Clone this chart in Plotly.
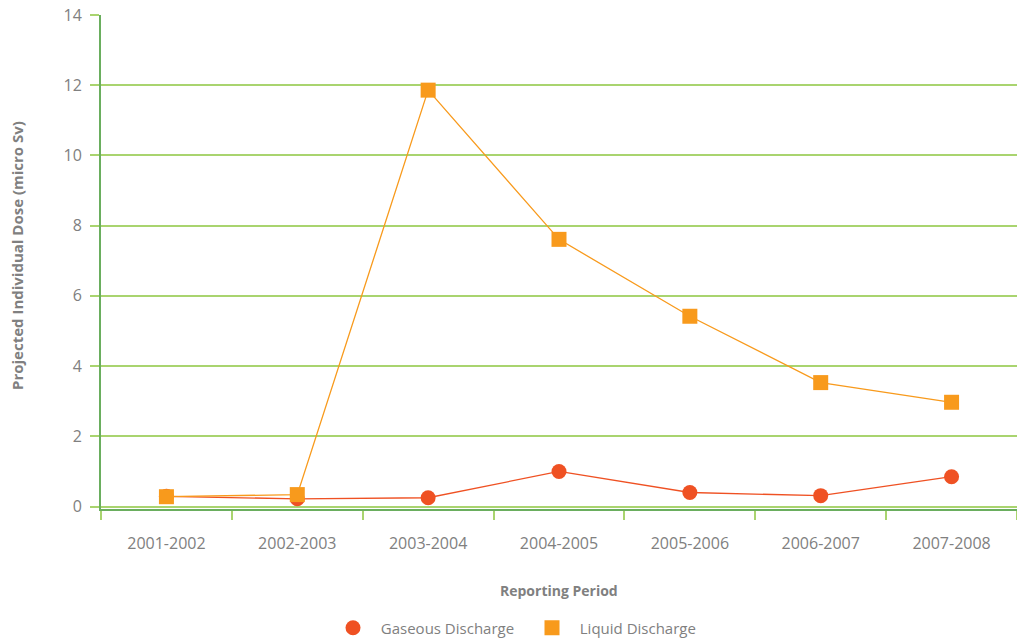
import plotly.graph_objects as go

periods = ["2001-2002", "2002-2003", "2003-2004", "2004-2005",
           "2005-2006", "2006-2007", "2007-2008"]
gaseous = [0.29, 0.22, 0.25, 1.00, 0.40, 0.31, 0.85]
liquid = [0.28, 0.34, 11.86, 7.61, 5.42, 3.53, 2.97]
y_ticks = [0, 2, 4, 6, 8, 10, 12, 14]

GAS_COLOR = "#EF5123"
LIQ_COLOR = "#F89A1C"
GRID_COLOR = "#A9D46F"
AXIS_COLOR = "#6AAE5E"
TEXT_COLOR = "#808080"
FONT = "Open Sans"
PAD = "\u00a0\u00a0"  # extra room between legend symbol and label

fig = go.Figure()
series = [("Gaseous Discharge", gaseous, GAS_COLOR, "circle"),
          ("Liquid Discharge", liquid, LIQ_COLOR, "square")]
for name, values, color, symbol in series:
    # plotted series (line + markers), kept out of the legend
    fig.add_trace(go.Scatter(
        x=periods, y=values, name=name, mode="lines+markers",
        line=dict(color=color, width=1.3),
        marker=dict(symbol=symbol, size=15, color=color),
        showlegend=False,
    ))
    # marker-only legend entry
    fig.add_trace(go.Scatter(
        x=[None], y=[None], name=PAD + name, mode="markers",
        marker=dict(symbol=symbol, size=15, color=color),
        showlegend=True,
    ))

fig.update_layout(
    width=1017, height=639,
    margin=dict(l=101, r=0, t=15, b=130),
    paper_bgcolor="white", plot_bgcolor="white",
    font=dict(family=FONT, size=16, color=TEXT_COLOR),
    showlegend=True,
    legend=dict(orientation="h", x=532 / 1017, xanchor="center",
                xref="container", y=11 / 639, yanchor="middle",
                yref="container", font=dict(size=15, color=TEXT_COLOR),
                itemsizing="trace", entrywidth=154),
    xaxis=dict(
        type="category", range=[-0.5, 6.5], tickson="boundaries",
        ticks="outside", ticklen=9,
        tickcolor=GRID_COLOR, tickwidth=1.5, showgrid=False,
        showline=True, linecolor=AXIS_COLOR, linewidth=2,
        ticklabelstandoff=19,
        tickfont=dict(family=FONT, size=16, color=TEXT_COLOR),
    ),
    yaxis=dict(
        range=[-0.07, 14], tickvals=y_ticks, ticks="outside", ticklen=9,
        tickcolor=GRID_COLOR, tickwidth=1.5, ticklabelstandoff=5,
        showgrid=True, gridcolor=GRID_COLOR, gridwidth=1.5,
        zeroline=False, showline=True, linecolor=AXIS_COLOR, linewidth=2,
        tickfont=dict(family=FONT, size=16, color=TEXT_COLOR),
    ),
    annotations=[
        dict(text="<b>Reporting Period</b>", xref="paper", yref="paper",
             x=0.5, y=-81 / 494, xanchor="center", yanchor="middle",
             showarrow=False, font=dict(family=FONT, size=14, color=TEXT_COLOR)),
        dict(text="<b>Projected Individual Dose (micro Sv)</b>", xref="paper",
             yref="paper", x=-84 / 916, y=0.5 + 6 / 494, xanchor="center",
             yanchor="middle", textangle=-90, showarrow=False,
             font=dict(family=FONT, size=15, color=TEXT_COLOR)),
    ],
)

fig.write_html("out.html")
